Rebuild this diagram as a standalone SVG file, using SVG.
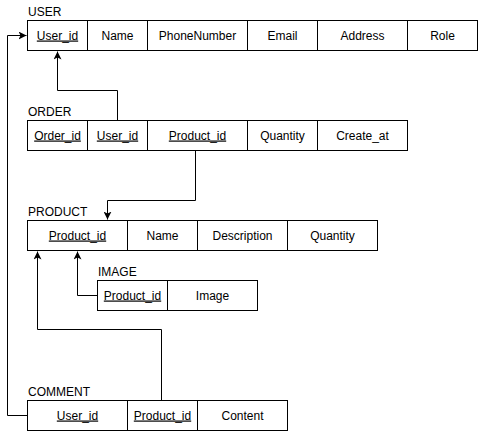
<svg xmlns="http://www.w3.org/2000/svg" width="478" height="431" viewBox="0 0 478 431">
<defs>
<style>
.cell{fill:#fff;stroke:#000;stroke-width:1}
.t{font-family:"Liberation Sans",Arial,Helvetica,sans-serif;font-size:12px;fill:#000;text-anchor:middle}
.k{text-decoration:underline}
.title{font-family:"Liberation Sans",Arial,Helvetica,sans-serif;font-size:12px;fill:#000}
.c{fill:none;stroke:#000;stroke-width:1}
</style>
<marker id="arr" markerWidth="8" markerHeight="8" viewBox="0 0 8 8" refX="8" refY="4" orient="auto" markerUnits="userSpaceOnUse">
<path d="M0,0 L8,4 L0,8 L2,4 Z" fill="#000"/>
</marker>
</defs>
<rect width="478" height="431" fill="#fff"/>

<g id="connectors">
<path class="c" d="M117.5,120.5 V90.5 H57.5 V51.5" marker-end="url(#arr)"/>
<path class="c" d="M195.5,150.5 V200.5 H107.5 V219.5" marker-end="url(#arr)"/>
<path class="c" d="M97.5,295.5 H77.5 V251.5" marker-end="url(#arr)"/>
<path class="c" d="M27.5,415.5 H7.5 V35.5 H26.5" marker-end="url(#arr)"/>
<path class="c" d="M161.5,400.5 V329.5 H37.5 V251.5" marker-end="url(#arr)"/>
</g>

<g id="user">
<text class="title" x="28" y="15.5">USER</text>
<rect class="cell" x="27.5" y="20.5" width="60" height="30"/>
<rect class="cell" x="87.5" y="20.5" width="60" height="30"/>
<rect class="cell" x="147.5" y="20.5" width="100" height="30"/>
<rect class="cell" x="247.5" y="20.5" width="70" height="30"/>
<rect class="cell" x="317.5" y="20.5" width="90" height="30"/>
<rect class="cell" x="407.5" y="20.5" width="70" height="30"/>
<text class="t k" x="57.5" y="39.5">User_id</text>
<text class="t" x="117.5" y="39.5">Name</text>
<text class="t" x="197.5" y="39.5">PhoneNumber</text>
<text class="t" x="282.5" y="39.5">Email</text>
<text class="t" x="362.5" y="39.5">Address</text>
<text class="t" x="442.5" y="39.5">Role</text>
</g>

<g id="order">
<text class="title" x="28" y="115.5">ORDER</text>
<rect class="cell" x="27.5" y="120.5" width="60" height="30"/>
<rect class="cell" x="87.5" y="120.5" width="60" height="30"/>
<rect class="cell" x="147.5" y="120.5" width="100" height="30"/>
<rect class="cell" x="247.5" y="120.5" width="70" height="30"/>
<rect class="cell" x="317.5" y="120.5" width="90" height="30"/>
<text class="t k" x="57.5" y="139.5">Order_id</text>
<text class="t k" x="117.5" y="139.5">User_id</text>
<text class="t k" x="197.5" y="139.5">Product_id</text>
<text class="t" x="282.5" y="139.5">Quantity</text>
<text class="t" x="362.5" y="139.5">Create_at</text>
</g>

<g id="product">
<text class="title" x="28" y="215.5">PRODUCT</text>
<rect class="cell" x="27.5" y="220.5" width="100" height="30"/>
<rect class="cell" x="127.5" y="220.5" width="70" height="30"/>
<rect class="cell" x="197.5" y="220.5" width="90" height="30"/>
<rect class="cell" x="287.5" y="220.5" width="90" height="30"/>
<text class="t k" x="77.5" y="239.5">Product_id</text>
<text class="t" x="162.5" y="239.5">Name</text>
<text class="t" x="242.5" y="239.5">Description</text>
<text class="t" x="332.5" y="239.5">Quantity</text>
</g>

<g id="image">
<text class="title" x="98" y="275.5">IMAGE</text>
<rect class="cell" x="97.5" y="280.5" width="70" height="30"/>
<rect class="cell" x="167.5" y="280.5" width="90" height="30"/>
<text class="t k" x="132.5" y="299.5">Product_id</text>
<text class="t" x="212.5" y="299.5">Image</text>
</g>

<g id="comment">
<text class="title" x="28" y="395.5">COMMENT</text>
<rect class="cell" x="27.5" y="400.5" width="100" height="30"/>
<rect class="cell" x="127.5" y="400.5" width="70" height="30"/>
<rect class="cell" x="197.5" y="400.5" width="90" height="30"/>
<text class="t k" x="77.5" y="419.5">User_id</text>
<text class="t k" x="162.5" y="419.5">Product_id</text>
<text class="t" x="242.5" y="419.5">Content</text>
</g>
</svg>
